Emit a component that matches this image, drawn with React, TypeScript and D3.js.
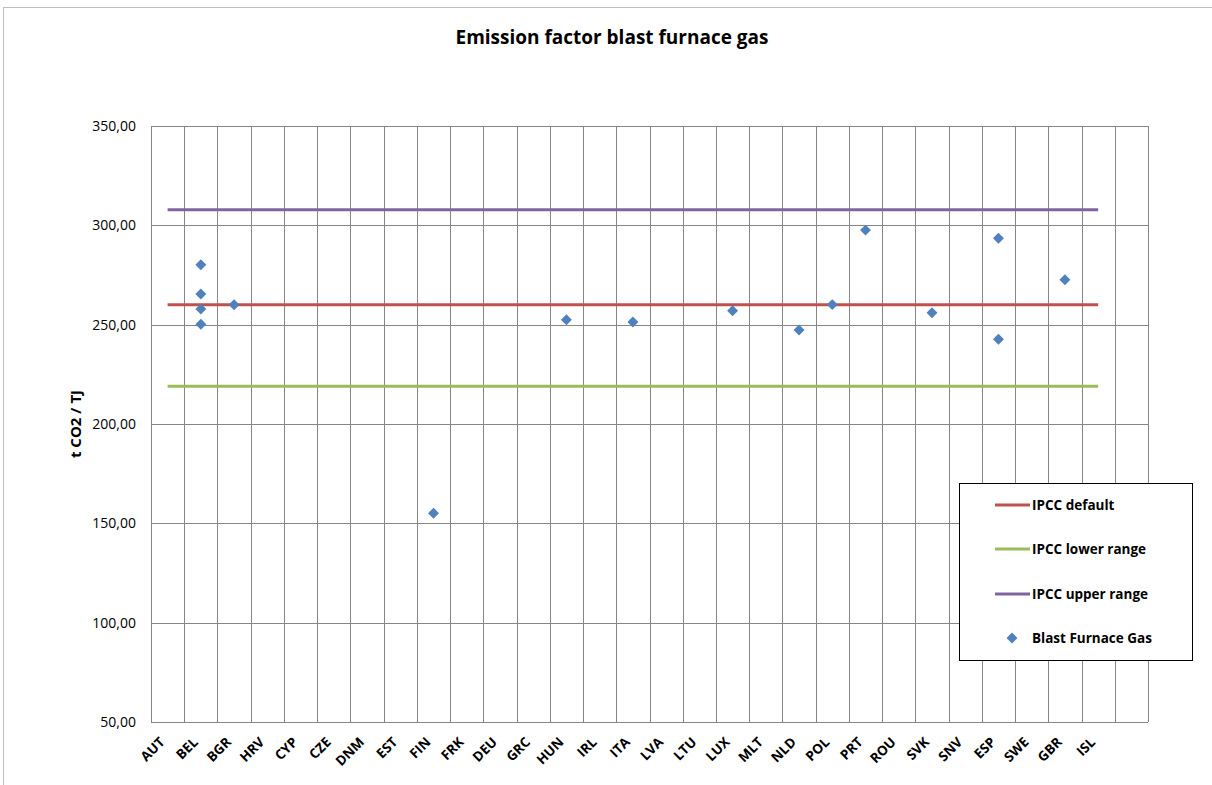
import React from "react";
import * as d3 from "d3";

const categories = ["AUT","BEL","BGR","HRV","CYP","CZE","DNM","EST","FIN","FRK","DEU","GRC","HUN","IRL","ITA","LVA","LTU","LUX","MLT","NLD","POL","PRT","ROU","SVK","SNV","ESP","SWE","GBR","ISL",""];
const yTicks = [50, 100, 150, 200, 250, 300, 350];
const ipccDefault = 260;
const ipccLower = 219;
const ipccUpper = 307.9;
const pointCountries = ["BEL","BEL","BEL","BEL","BGR","FIN","HUN","ITA","LUX","NLD","POL","PRT","SVK","ESP","ESP","GBR"];
const pointValues = [280.2, 265.4, 257.9, 250.2, 260, 155.1, 252.5, 251.3, 257.0, 247.3, 260.1, 297.6, 256.0, 293.5, 242.7, 272.6];

const W = 1212, H = 785;
const M = { left: 151, right: 1148, top: 126, bottom: 722 };
const C = { red: "#C0504D", green: "#9BBB59", purple: "#8064A2", blue: "#4F81BD", grid: "#868686" };
const FONT = "'Open Sans', 'Liberation Sans', sans-serif";

export default function App() {
  const x = d3.scaleBand<string>().domain(categories.map((c, i) => c + "#" + i)).range([M.left, M.right]).padding(0);
  const key = (c: string) => c + "#" + categories.indexOf(c);
  const cx = (c: string) => (x(key(c)) as number) + x.bandwidth() / 2;
  const y = d3.scaleLinear().domain([50, 350]).range([M.bottom, M.top]);
  const first = categories[0];
  const last = categories[categories.length - 2];
  const bounds = categories.map((c, i) => x(c + "#" + i) as number).concat([M.right]);
  const diamond = d3.symbol().type(d3.symbolDiamond2).size(76)() as string;
  const hLines = [
    { v: ipccDefault, color: C.red, label: "IPCC default" },
    { v: ipccLower, color: C.green, label: "IPCC lower range" },
    { v: ipccUpper, color: C.purple, label: "IPCC upper range" },
  ];
  const lg = { x: 959, y: 483, w: 233, h: 177 };
  const rows = [505, 549, 594, 638];
  return (
    <svg width={W} height={H} style={{ position: "absolute", left: 0, top: 0, background: "#fff" }} fontFamily={FONT}>
      <line x1={3} y1={7.5} x2={W} y2={7.5} stroke="#BFBFBF" />
      <line x1={3.5} y1={7} x2={3.5} y2={H} stroke="#BFBFBF" />
      <text x={612} y={44} textAnchor="middle" fontSize={19} fontWeight="bold" textLength={313} lengthAdjust="spacingAndGlyphs">Emission factor blast furnace gas</text>
      {yTicks.map(t => (
        <g key={t}>
          <line x1={M.left} x2={M.right} y1={Math.round(y(t)) + 0.5} y2={Math.round(y(t)) + 0.5} stroke={C.grid} />
          <text x={136} y={y(t) + 5} textAnchor="end" fontSize={14}>{d3.format(".2f")(t).replace(".", ",")}</text>
        </g>
      ))}
      {bounds.map((b, i) => (
        <line key={i} x1={Math.round(b) + 0.5} x2={Math.round(b) + 0.5} y1={M.top} y2={M.bottom} stroke={C.grid} />
      ))}
      <text transform={`translate(81,${(M.top + M.bottom) / 2}) rotate(-90)`} textAnchor="middle" fontSize={15} fontWeight="bold">t CO2 / TJ</text>
      {categories.map((c, i) => c ? (
        <text key={i} transform={`translate(${cx(c) - 2},${M.bottom + 21}) rotate(-45)`} textAnchor="end" fontSize={13.5} fontWeight="bold">{c}</text>
      ) : null)}
      {hLines.map(h => (
        <line key={h.label} x1={cx(first)} x2={cx(last)} y1={y(h.v)} y2={y(h.v)} stroke={h.color} strokeWidth={3} />
      ))}
      {pointCountries.map((c, i) => (
        <path key={i} d={diamond} transform={`translate(${cx(c)},${y(pointValues[i])})`} fill={C.blue} />
      ))}
      <rect x={lg.x + 0.5} y={lg.y + 0.5} width={lg.w} height={lg.h} fill="#fff" stroke="#000" />
      {hLines.map((h, i) => (
        <g key={h.label}>
          <line x1={995} x2={1030} y1={rows[i]} y2={rows[i]} stroke={h.color} strokeWidth={3} />
          <text x={1032} y={rows[i] + 5} fontSize={13.5} fontWeight="bold">{h.label}</text>
        </g>
      ))}
      <path d={diamond} transform={`translate(1012,${rows[3]})`} fill={C.blue} />
      <text x={1032} y={rows[3] + 5} fontSize={13.5} fontWeight="bold">Blast Furnace Gas</text>
    </svg>
  );
}
